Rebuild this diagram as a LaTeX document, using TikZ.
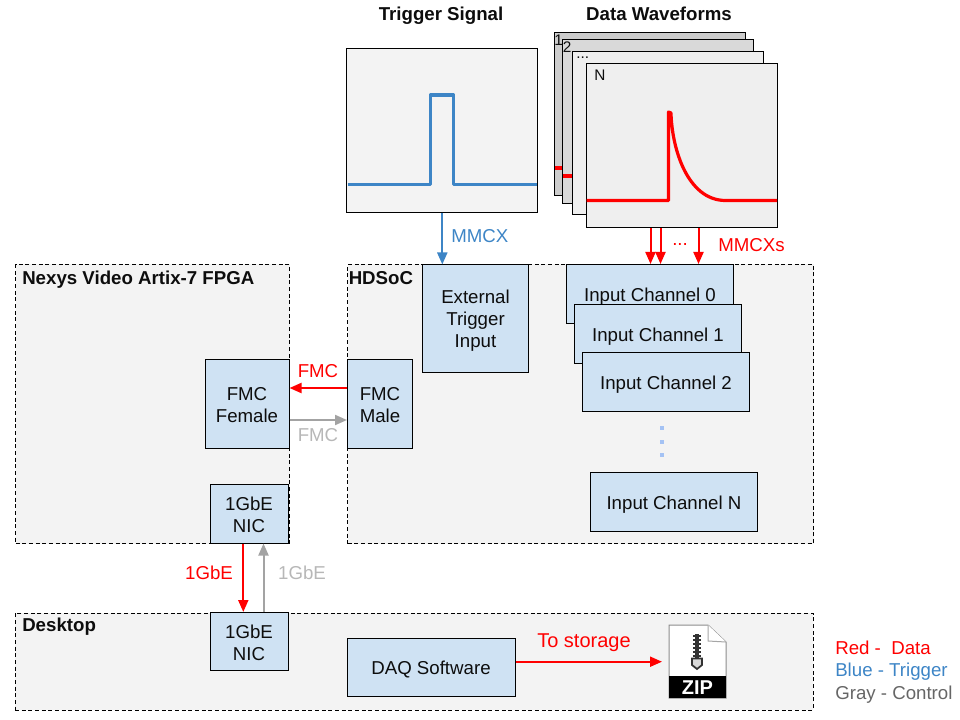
\documentclass[tikz,border=0pt]{standalone}
\usepackage{fontspec}
\setmainfont{Liberation Sans}
\usetikzlibrary{arrows.meta}
\definecolor{panelgray}{HTML}{F3F3F3}
\definecolor{sheetgray}{HTML}{EFEFEF}
\definecolor{boxblue}{HTML}{CFE2F3}
\definecolor{trigblue}{HTML}{3D85C6}
\definecolor{ctlgray}{HTML}{A3A3A3}
\definecolor{lblgray}{HTML}{B7B7B7}
\definecolor{dotblue}{HTML}{A4C2F4}
\newcommand{\dn}[2][1.5pt]{\raisebox{-#1}[\height][\depth]{#2}}
\tikzset{
  x=0.75pt,y=-0.75pt,
  every node/.style={font=\fontsize{14pt}{16.5pt}\selectfont,text=black!95,align=center,inner sep=0pt},
  panel/.style={draw=black,fill=panelgray,dashed,dash pattern=on 3pt off 2pt,line width=0.7pt},
  bluebox/.style={draw=black,fill=boxblue,line width=0.75pt},
  sheet/.style={draw=black,line width=0.75pt},
  redarrow/.style={red,line width=1.5pt,-{Triangle[length=9pt,width=7.5pt]}},
  grayarrow/.style={ctlgray,line width=1.5pt,-{Triangle[length=9pt,width=7.5pt]}},
  bluearrow/.style={trigblue,line width=1.5pt,-{Triangle[length=9pt,width=7.5pt]}},
  trace/.style={line width=2.4pt,line join=round},
  heading/.style={font=\fontsize{14pt}{16pt}\selectfont\bfseries,anchor=west},
  sheetlabel/.style={font=\fontsize{11.5pt}{12pt}\selectfont,anchor=west},
}
\begin{document}
\begin{tikzpicture}
\useasboundingbox (0,0) rectangle (960,720);
% panels
\node[panel,minimum width=274*0.75pt,minimum height=279*0.75pt] (nexys) at (152.5,404) {};
\node[panel,minimum width=466*0.75pt,minimum height=279*0.75pt] (hdsoc) at (580.5,404) {};
\node[panel,minimum width=798*0.75pt,minimum height=97*0.75pt] (desktop) at (414,661.5) {};
\node[heading] (nexyslbl) at (22,279.5) {Nexys Video Artix-7 FPGA};
\node[heading] (hdsoclbl) at (348.5,278) {HDSoC};
\node[heading] (desktoplbl) at (22,627) {Desktop};
% plots
\node[sheet,fill=panelgray,minimum width=191*0.75pt,minimum height=163.5*0.75pt] (trigplot) at (442,130.3) {};
\draw[trace,trigblue] (347.5,184.3) -- (430.3,184.3) -- (430.3,95) -- (453.7,95) -- (453.7,184.3) -- (537,184.3);
\node[sheet,fill=black!20,minimum width=191*0.75pt,minimum height=163*0.75pt] (s1) at (649.5,114.5) {};
\node[sheet,fill=black!15,minimum width=191*0.75pt,minimum height=164*0.75pt] (s2) at (658,122) {};
\node[sheet,fill=sheetgray,minimum width=191*0.75pt,minimum height=163*0.75pt] (s3) at (668,133.5) {};
\node[sheet,fill=sheetgray,minimum width=191*0.75pt,minimum height=164*0.75pt] (s4) at (682,146) {};
\draw[trace,red] (555,168) -- (562,168);
\draw[trace,red] (563,176) -- (572,176);
\draw[trace,red] (586.5,200.5) -- (668.5,200.5) -- (668.5,112) -- (671,113)
  .. controls (672,150) and (688,200) .. (725,200.5) -- (777,200.5);
\node[sheetlabel] (l1) at (554,40) {1};
\node[sheetlabel] (l2) at (562.5,47) {2};
\node[sheetlabel] (l3) at (576,58) {...};
\node[sheetlabel] (l4) at (594,75) {N};
\node[font=\fontsize{14pt}{16pt}\selectfont\bfseries] (tslbl) at (441,15.5) {Trigger Signal};
\node[font=\fontsize{14pt}{16pt}\selectfont\bfseries] (dwlbl) at (659,14) {Data Waveforms};
% blue boxes
\node[bluebox,minimum width=106*0.75pt,minimum height=107*0.75pt] (ext) at (475.5,318.5) {\dn{External}\\\dn{Trigger}\\\dn{Input}};
\node[bluebox,minimum width=167.5*0.75pt,minimum height=59*0.75pt] (ch0) at (650,294) {\dn[2.25pt]{Input Channel 0}};
\node[bluebox,minimum width=167.5*0.75pt,minimum height=59*0.75pt] (ch1) at (658,334) {\dn[2.25pt]{Input Channel 1}};
\node[bluebox,minimum width=167.5*0.75pt,minimum height=59*0.75pt] (ch2) at (666,382) {\dn[2.25pt]{Input Channel 2}};
\node[bluebox,minimum width=167.5*0.75pt,minimum height=59*0.75pt] (chn) at (674,502) {\dn[2.25pt]{Input Channel N}};
\node[bluebox,minimum width=84*0.75pt,minimum height=89*0.75pt] (fmcf) at (247,404) {\dn[0.75pt]{FMC}\\\dn[0.75pt]{Female}};
\node[bluebox,minimum width=65*0.75pt,minimum height=89*0.75pt] (fmcm) at (380,404) {\dn[0.75pt]{FMC}\\\dn[0.75pt]{Male}};
\node[bluebox,minimum width=78*0.75pt,minimum height=59*0.75pt] (nic1) at (249,513.5) {\dn[0.75pt]{1GbE}\\\dn[0.75pt]{NIC}};
\node[bluebox,minimum width=78*0.75pt,minimum height=58*0.75pt] (nic2) at (249,641.5) {\dn[0.75pt]{1GbE}\\\dn[0.75pt]{NIC}};
\node[bluebox,minimum width=168*0.75pt,minimum height=58*0.75pt] (daq) at (431,667) {\dn[2.25pt]{DAQ Software}};
% dots between channels
\foreach \yy in {428,441.7,455.4}{\fill[dotblue] (660.3,\yy-2) rectangle (664.3,\yy+2);}
% zip icon
\fill[white,draw=black!45,line width=0.75pt] (669,625) -- (708,625) -- (726,642) -- (726,698) -- (669,698) -- cycle;
\fill[white,draw=black!35,line width=0.75pt] (708,625) -- (708,641) -- (726,642);
\fill[black] (669,676) rectangle (726,698);
\node[font=\fontsize{15pt}{16pt}\selectfont\bfseries,text=white] (ziptxt) at (697.5,687.5) {ZIP};
\fill[black!80] (695,634) rectangle (699,658);
\foreach \yy in {636,640,644,648,652,656}{\fill[black!80] (693,\yy-1) rectangle (701,\yy+1);}
\draw[black!80,line width=1.3pt,fill=black!15] (692,658.5) -- (702,658.5) -- (702,665) -- (697,669) -- (692,665) -- cycle;
% connectors
\draw[bluearrow] (trigplot.south -| 442.3,0) -- (ext.north -| 442.3,0);
\draw[redarrow] (s4.south -| 650.5,0) -- (ch0.north -| 650.5,0);
\draw[redarrow] (s4.south -| 660.5,0) -- (ch0.north -| 660.5,0);
\draw[redarrow] (s4.south -| 698.5,0) -- (ch0.north -| 698.5,0);
\draw[redarrow] (fmcm.west |- 0,388) -- (fmcf.east |- 0,388);
\draw[grayarrow] (fmcf.east |- 0,420) -- (fmcm.west |- 0,420);
\draw[redarrow] (nic1.south -| 243.3,0) -- (nic2.north -| 243.3,0);
\draw[grayarrow] (nic2.north -| 263.5,0) -- (nic1.south -| 263.5,0);
\coordinate (zipin) at (662,661.7);
\draw[redarrow] (daq.east |- zipin) -- (zipin);
% labels
\node[text=trigblue,anchor=west] (m1) at (451,236) {MMCX};
\node[text=red,anchor=west] (m2) at (718,245) {MMCXs};
\node[text=red,anchor=west] (m3) at (672,245) {...};
\node[text=red] (f1) at (318,371) {FMC};
\node[text=lblgray] (f2) at (318,435) {FMC};
\node[text=red] (g1) at (209,573) {1GbE};
\node[text=lblgray] (g2) at (302,573) {1GbE};
\node[text=red,font=\fontsize{15pt}{17pt}\selectfont] (st) at (584,642.5) {To storage};
\node[text=red,anchor=west] (k1) at (835,648) {Red -\ \ Data};
\node[text=trigblue,anchor=west] (k2) at (835,671.5) {Blue - Trigger};
\node[text=black!60,anchor=west] (k3) at (835,694.5) {Gray - Control};
\end{tikzpicture}
\end{document}
